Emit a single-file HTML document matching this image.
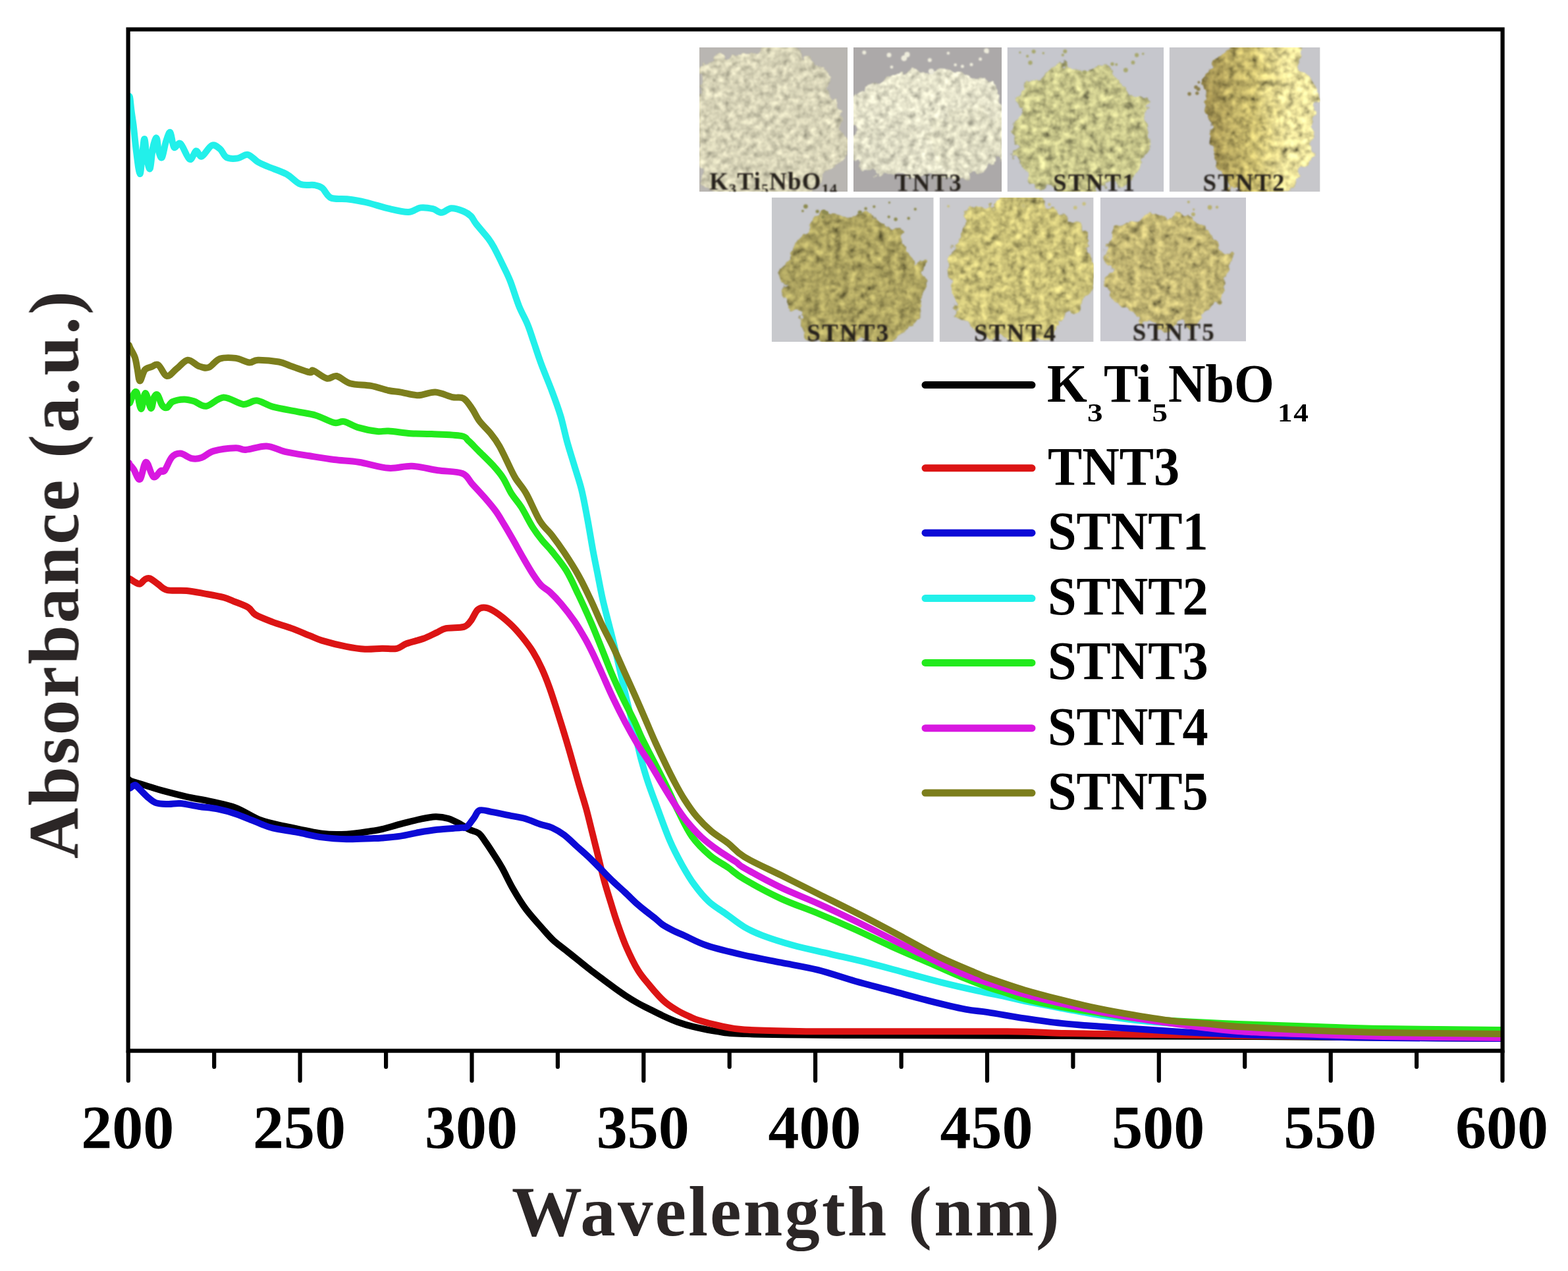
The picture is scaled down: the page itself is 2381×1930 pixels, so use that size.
<!DOCTYPE html>
<html><head><meta charset="utf-8"><style>
html,body{margin:0;padding:0;background:#fff;}
body{width:2381px;height:1930px;overflow:hidden;}
svg{display:block;}
</style></head><body>
<svg xmlns="http://www.w3.org/2000/svg" width="2381" height="1930" viewBox="0 0 2381 1930">
<defs><clipPath id="pc"><rect x="194" y="44" width="2088" height="1552"/></clipPath></defs>
<rect width="2381" height="1930" fill="#fff"/>
<defs>
<filter id="rough" x="-10%" y="-10%" width="120%" height="120%">
  <feTurbulence type="fractalNoise" baseFrequency="0.045" numOctaves="3" seed="4" result="t"/>
  <feDisplacementMap in="SourceGraphic" in2="t" scale="26" xChannelSelector="R" yChannelSelector="G" result="d"/>
  <feTurbulence type="fractalNoise" baseFrequency="0.1" numOctaves="3" seed="9" result="n"/>
  <feColorMatrix in="n" type="matrix" values="0.33 0.33 0.33 0 0  0.33 0.33 0.33 0 0  0.33 0.33 0.33 0 0  0 0 0 0 1" result="g"/>
  <feComposite in="d" in2="g" operator="arithmetic" k1="2.1" k2="-0.05" k3="0" k4="0" result="c"/>
  <feComposite in="c" in2="d" operator="in" result="o"/>
  <feGaussianBlur in="o" stdDeviation="1.1"/>
</filter>
<filter id="roughB" x="-10%" y="-10%" width="120%" height="120%">
  <feTurbulence type="fractalNoise" baseFrequency="0.045" numOctaves="3" seed="6" result="t"/>
  <feDisplacementMap in="SourceGraphic" in2="t" scale="26" xChannelSelector="R" yChannelSelector="G" result="d"/>
  <feTurbulence type="fractalNoise" baseFrequency="0.09" numOctaves="3" seed="13" result="n"/>
  <feColorMatrix in="n" type="matrix" values="0.33 0.33 0.33 0 0  0.33 0.33 0.33 0 0  0.33 0.33 0.33 0 0  0 0 0 0 1" result="g"/>
  <feComposite in="d" in2="g" operator="arithmetic" k1="3.1" k2="-0.55" k3="0" k4="0" result="c"/>
  <feComposite in="c" in2="d" operator="in" result="o"/>
  <feGaussianBlur in="o" stdDeviation="1.2"/>
</filter>
<filter id="soft"><feGaussianBlur stdDeviation="0.9"/></filter>
<clipPath id="ph1"><rect x="1062" y="72" width="225" height="219"/></clipPath>
<clipPath id="ph2"><rect x="1296" y="72" width="225" height="219"/></clipPath>
<clipPath id="ph3"><rect x="1529.5" y="72" width="237.5" height="219"/></clipPath>
<clipPath id="ph4"><rect x="1775.6" y="72" width="229" height="219"/></clipPath>
<clipPath id="ph5"><rect x="1171.7" y="300" width="246" height="219"/></clipPath>
<clipPath id="ph6"><rect x="1426.6" y="300" width="234" height="219"/></clipPath>
<clipPath id="ph7"><rect x="1670.7" y="300" width="221.3" height="218.5"/></clipPath>
<linearGradient id="g4" x1="0.05" y1="0" x2="0.95" y2="0">
  <stop offset="0" stop-color="#a09050"/><stop offset="0.45" stop-color="#cec070"/><stop offset="0.75" stop-color="#ece29a"/><stop offset="1" stop-color="#f0e6a0"/>
</linearGradient>
</defs>
<g clip-path="url(#ph1)">
<rect x="1062.0" y="72.0" width="225.0" height="219.0" fill="#b9b6b2"/>
<g filter="url(#rough)"><path d="M1274.4,190.0 C1276.8,199.3 1287.6,210.2 1288.0,219.7 C1288.5,229.3 1282.8,239.7 1276.9,247.1 C1271.0,254.5 1259.1,257.4 1252.7,264.1 C1246.3,270.9 1244.7,281.4 1238.5,287.6 C1232.3,293.9 1223.4,296.8 1215.7,301.5 C1207.9,306.1 1200.5,312.1 1192.1,315.6 C1183.6,319.0 1173.5,324.5 1165.0,322.2 C1156.5,320.0 1148.6,307.0 1140.9,302.0 C1133.1,296.9 1127.7,293.3 1118.6,292.0 C1109.6,290.7 1093.9,298.5 1086.5,294.3 C1079.0,290.1 1079.5,274.8 1074.0,266.9 C1068.4,259.0 1055.2,255.7 1053.1,247.1 C1051.0,238.4 1062.2,224.6 1061.4,215.0 C1060.6,205.5 1051.0,199.0 1048.3,190.0 C1045.5,181.0 1042.2,169.5 1044.9,161.0 C1047.6,152.4 1061.2,148.0 1064.5,138.7 C1067.7,129.4 1061.0,114.2 1064.5,105.1 C1068.0,96.1 1076.5,87.3 1085.5,84.4 C1094.5,81.6 1109.3,88.7 1118.6,88.0 C1127.9,87.2 1133.5,83.7 1141.2,79.7 C1149.0,75.7 1156.3,67.7 1165.0,64.0 C1173.7,60.3 1185.2,54.7 1193.6,57.4 C1201.9,60.1 1208.2,73.3 1215.0,80.1 C1221.8,86.8 1227.6,92.3 1234.4,97.8 C1241.2,103.3 1251.3,106.1 1255.8,113.3 C1260.3,120.5 1258.3,132.5 1261.3,140.9 C1264.3,149.3 1271.5,155.5 1273.6,163.7 C1275.8,171.9 1272.0,180.7 1274.4,190.0Z" fill="#d8d4b8"/><path d="M1174.4,235.0 C1174.6,240.2 1174.3,245.3 1174.2,250.8 C1174.1,256.3 1175.7,263.4 1173.6,267.9 C1171.5,272.5 1165.1,274.7 1161.6,278.3 C1158.1,282.0 1155.8,286.3 1152.5,289.8 C1149.1,293.3 1145.6,297.6 1141.5,299.2 C1137.3,300.7 1131.9,297.9 1127.5,298.9 C1123.1,299.9 1119.4,304.2 1115.0,305.2 C1110.6,306.2 1105.9,305.6 1101.3,305.0 C1096.7,304.5 1090.9,305.1 1087.4,301.8 C1084.0,298.5 1083.5,289.4 1080.6,285.3 C1077.7,281.1 1072.5,280.7 1069.9,276.9 C1067.4,273.2 1068.2,267.1 1065.4,262.9 C1062.5,258.7 1055.0,256.2 1052.9,251.5 C1050.8,246.9 1051.2,240.1 1052.7,235.0 C1054.2,229.9 1061.4,226.4 1061.9,220.9 C1062.4,215.3 1055.4,207.3 1055.7,201.7 C1056.0,196.1 1060.3,191.2 1063.7,187.3 C1067.2,183.4 1072.3,181.4 1076.4,178.6 C1080.5,175.8 1084.0,171.7 1088.4,170.5 C1092.7,169.3 1098.1,171.2 1102.6,171.4 C1107.0,171.6 1110.7,172.6 1115.0,171.8 C1119.3,170.9 1124.5,165.4 1128.4,166.4 C1132.4,167.3 1135.1,174.6 1138.7,177.5 C1142.4,180.4 1146.6,181.0 1150.1,183.7 C1153.5,186.3 1157.2,189.6 1159.5,193.6 C1161.8,197.6 1161.7,203.2 1164.0,207.5 C1166.2,211.8 1171.3,214.9 1173.1,219.5 C1174.8,224.1 1174.2,229.8 1174.4,235.0Z" fill="#d8d4b8"/></g>
</g>
<g clip-path="url(#ph2)">
<rect x="1296.0" y="72.0" width="225.0" height="219.0" fill="#aca9a9"/>
<g filter="url(#rough)"><path d="M1540.8,185.0 C1542.2,191.6 1542.7,200.0 1537.3,205.6 C1532.0,211.2 1515.7,213.9 1508.9,218.6 C1502.1,223.3 1499.7,227.4 1496.6,233.6 C1493.5,239.8 1495.7,250.6 1490.5,255.9 C1485.3,261.2 1474.2,262.7 1465.6,265.2 C1457.1,267.7 1448.1,270.4 1439.1,270.7 C1430.2,270.9 1421.0,266.9 1412.0,266.7 C1403.0,266.6 1393.9,270.2 1385.2,269.6 C1376.5,269.0 1367.7,266.1 1359.7,263.2 C1351.7,260.4 1342.8,257.3 1337.2,252.5 C1331.6,247.7 1331.1,239.6 1326.0,234.4 C1321.0,229.2 1311.6,226.5 1307.2,221.4 C1302.7,216.2 1302.5,209.6 1299.4,203.5 C1296.3,197.5 1291.0,191.5 1288.7,185.0 C1286.4,178.5 1284.3,170.9 1285.6,164.2 C1286.8,157.5 1290.6,150.3 1296.1,144.8 C1301.7,139.4 1311.7,135.8 1318.9,131.5 C1326.1,127.3 1331.9,122.5 1339.2,119.3 C1346.6,116.0 1355.0,113.5 1363.2,112.0 C1371.3,110.4 1380.0,110.5 1388.2,109.8 C1396.3,109.2 1403.7,109.2 1412.0,108.0 C1420.3,106.8 1429.8,102.2 1438.1,102.7 C1446.3,103.2 1453.7,108.3 1461.3,111.2 C1469.0,114.1 1475.4,117.4 1483.8,120.1 C1492.2,122.9 1505.6,123.2 1511.5,127.9 C1517.3,132.5 1516.0,141.6 1518.9,147.9 C1521.7,154.3 1524.8,159.7 1528.4,165.9 C1532.1,172.0 1539.3,178.4 1540.8,185.0Z" fill="#e6e4cc"/><path d="M1529.7,215.0 C1530.8,218.6 1531.0,222.7 1530.3,226.5 C1529.7,230.2 1528.7,234.5 1525.9,237.4 C1523.1,240.3 1517.2,241.8 1513.6,243.9 C1509.9,246.1 1506.8,247.8 1503.7,250.3 C1500.7,252.8 1498.9,257.0 1495.4,258.9 C1491.9,260.8 1487.0,260.0 1482.7,261.5 C1478.5,263.1 1474.4,267.4 1470.0,268.1 C1465.6,268.8 1460.6,266.8 1456.1,265.6 C1451.7,264.4 1447.4,262.8 1443.4,261.0 C1439.4,259.1 1435.8,256.8 1432.2,254.5 C1428.5,252.2 1423.6,250.4 1421.6,247.2 C1419.5,243.9 1421.3,238.7 1419.8,235.2 C1418.2,231.6 1413.2,229.4 1412.2,226.0 C1411.3,222.6 1415.0,218.8 1414.1,215.0 C1413.1,211.2 1405.6,206.3 1406.8,203.0 C1407.9,199.7 1418.5,198.7 1420.7,195.2 C1422.9,191.7 1417.6,184.5 1420.1,181.8 C1422.6,179.2 1432.0,181.5 1435.8,179.2 C1439.6,177.0 1439.4,170.2 1443.0,168.3 C1446.5,166.4 1452.6,168.2 1457.1,167.8 C1461.6,167.5 1465.5,166.8 1470.0,166.0 C1474.5,165.1 1480.3,161.5 1484.3,162.9 C1488.2,164.3 1490.2,171.6 1493.5,174.3 C1496.8,177.0 1499.6,178.2 1504.1,179.3 C1508.7,180.5 1517.5,178.9 1520.8,181.2 C1524.1,183.6 1523.7,189.3 1524.2,193.3 C1524.6,197.2 1522.8,201.2 1523.7,204.8 C1524.6,208.4 1528.6,211.4 1529.7,215.0Z" fill="#dedcc2"/><path d="M1399.6,222.0 C1398.9,225.0 1392.5,227.9 1390.2,230.7 C1387.9,233.4 1386.1,235.1 1385.8,238.5 C1385.4,241.8 1389.9,248.4 1388.0,250.8 C1386.1,253.2 1378.0,251.7 1374.2,252.8 C1370.4,253.8 1368.0,255.1 1365.0,257.0 C1362.1,258.9 1359.8,263.2 1356.5,264.2 C1353.1,265.1 1348.9,262.4 1345.0,262.7 C1341.1,263.0 1336.4,267.0 1333.0,266.1 C1329.6,265.3 1328.1,259.2 1324.5,257.8 C1320.8,256.4 1313.8,259.6 1311.0,257.9 C1308.1,256.1 1309.3,250.1 1307.3,247.2 C1305.3,244.4 1301.6,243.1 1299.0,240.6 C1296.5,238.1 1293.0,235.3 1292.0,232.2 C1291.1,229.1 1293.1,225.4 1293.1,222.0 C1293.2,218.6 1291.3,215.0 1292.1,211.9 C1292.9,208.7 1295.2,205.3 1298.1,203.0 C1301.0,200.7 1307.2,200.9 1309.4,198.2 C1311.7,195.5 1309.2,189.1 1311.4,186.7 C1313.7,184.2 1319.1,184.2 1322.9,183.5 C1326.7,182.8 1330.6,182.7 1334.3,182.6 C1338.0,182.5 1341.2,183.3 1345.0,182.6 C1348.8,181.9 1353.2,178.0 1356.9,178.2 C1360.6,178.3 1363.4,182.2 1367.1,183.5 C1370.7,184.9 1375.7,184.5 1378.9,186.3 C1382.1,188.1 1383.7,191.7 1386.2,194.4 C1388.8,197.0 1392.8,199.1 1394.2,202.1 C1395.6,205.1 1393.5,209.2 1394.4,212.5 C1395.3,215.8 1400.3,219.0 1399.6,222.0Z" fill="#dedcc4"/></g>
</g>
<g clip-path="url(#ph3)">
<rect x="1529.5" y="72.0" width="237.5" height="219.0" fill="#c6c7cd"/>
<g filter="url(#roughB)"><path d="M1740.5,200.0 C1740.8,207.4 1745.5,215.4 1744.3,222.4 C1743.1,229.5 1736.5,235.4 1733.3,242.3 C1730.0,249.1 1729.1,257.3 1725.0,263.6 C1720.9,270.0 1715.4,277.0 1708.5,280.1 C1701.5,283.3 1690.8,281.0 1683.2,282.3 C1675.6,283.6 1669.8,283.9 1662.9,288.0 C1656.0,292.1 1649.2,305.9 1642.0,306.7 C1634.8,307.5 1627.1,296.4 1620.0,292.8 C1612.9,289.2 1607.5,286.5 1599.3,285.3 C1591.1,284.2 1577.1,289.8 1570.7,285.9 C1564.4,282.0 1566.0,268.6 1561.2,262.0 C1556.4,255.4 1545.3,252.9 1542.0,246.3 C1538.6,239.7 1542.2,229.9 1541.1,222.1 C1539.9,214.4 1534.0,207.1 1535.1,200.0 C1536.2,192.9 1545.9,186.7 1547.7,179.3 C1549.5,171.9 1544.6,163.1 1545.8,155.4 C1546.9,147.7 1549.5,138.7 1554.7,133.1 C1559.9,127.4 1570.2,126.0 1576.9,121.5 C1583.5,116.9 1587.8,109.3 1594.7,105.6 C1601.6,101.8 1610.2,98.6 1618.1,99.2 C1625.9,99.7 1634.0,109.0 1642.0,108.7 C1650.0,108.4 1658.7,97.5 1666.3,97.5 C1674.0,97.4 1681.6,103.7 1687.9,108.3 C1694.3,112.8 1699.6,119.1 1704.3,124.9 C1708.9,130.8 1709.3,138.7 1715.7,143.5 C1722.1,148.3 1738.0,147.7 1742.6,153.4 C1747.1,159.2 1743.2,170.1 1742.8,177.9 C1742.5,185.6 1740.3,192.6 1740.5,200.0Z" fill="#c8c68a"/></g>
</g>
<g clip-path="url(#ph4)">
<rect x="1775.6" y="72.0" width="229.0" height="219.0" fill="#c7c7cb"/>
<g filter="url(#roughB)"><path d="M1994.6,180.0 C1993.0,189.8 1991.3,198.1 1990.4,207.7 C1989.5,217.2 1991.5,228.9 1989.1,237.4 C1986.7,245.8 1980.5,251.9 1976.1,258.4 C1971.8,264.9 1967.1,269.6 1962.8,276.4 C1958.6,283.2 1955.3,291.5 1950.7,299.2 C1946.1,306.9 1941.2,318.6 1935.3,322.6 C1929.3,326.6 1921.7,323.8 1915.0,323.1 C1908.3,322.4 1901.1,323.3 1895.3,318.6 C1889.6,313.9 1886.1,300.2 1880.6,294.9 C1875.1,289.5 1867.0,292.1 1862.2,286.3 C1857.5,280.6 1855.3,269.0 1852.3,260.4 C1849.3,251.8 1846.4,243.5 1844.3,234.7 C1842.2,226.0 1841.0,216.8 1839.6,207.7 C1838.1,198.6 1838.0,190.0 1835.8,180.0 C1833.6,170.0 1826.3,157.8 1826.1,147.4 C1825.9,137.0 1831.1,127.0 1834.3,117.6 C1837.5,108.1 1841.1,98.9 1845.3,90.7 C1849.5,82.4 1853.6,72.3 1859.5,68.1 C1865.4,64.0 1874.5,68.3 1880.8,65.8 C1887.0,63.4 1891.3,57.4 1897.0,53.4 C1902.7,49.3 1908.7,43.4 1915.0,41.6 C1921.3,39.7 1928.1,40.9 1934.6,42.3 C1941.1,43.6 1947.9,45.7 1954.0,49.7 C1960.2,53.8 1967.8,57.6 1971.4,66.4 C1974.9,75.3 1971.8,93.8 1975.2,102.8 C1978.7,111.7 1988.2,112.5 1992.3,120.2 C1996.4,127.9 1999.3,139.0 1999.7,148.9 C2000.1,158.9 1996.1,170.2 1994.6,180.0Z" fill="url(#g4)"/></g>
</g>
<g clip-path="url(#ph5)">
<rect x="1171.7" y="300.0" width="246.0" height="219.0" fill="#c8c9cd"/>
<g filter="url(#roughB)"><path d="M1403.7,425.0 C1403.2,433.0 1404.7,441.0 1403.4,448.8 C1402.1,456.6 1399.1,464.3 1396.0,471.9 C1393.0,479.4 1390.3,488.1 1384.9,494.2 C1379.5,500.3 1370.4,503.5 1363.6,508.6 C1356.7,513.6 1352.0,523.6 1343.8,524.7 C1335.7,525.7 1323.2,514.8 1314.8,515.1 C1306.3,515.3 1301.0,523.3 1293.0,526.3 C1285.0,529.3 1274.9,534.4 1266.8,533.3 C1258.8,532.2 1252.5,523.3 1244.7,519.6 C1237.0,516.0 1225.2,517.1 1220.3,511.1 C1215.3,505.1 1219.1,490.7 1215.1,483.7 C1211.1,476.6 1200.0,475.2 1196.3,469.0 C1192.6,462.8 1195.1,453.9 1193.0,446.5 C1191.0,439.2 1185.2,432.4 1184.1,425.0 C1182.9,417.6 1182.6,408.6 1186.2,402.0 C1189.7,395.3 1200.6,391.2 1205.2,385.1 C1209.7,378.9 1209.4,371.1 1213.3,365.0 C1217.3,359.0 1223.8,355.4 1228.6,348.8 C1233.4,342.2 1235.7,330.2 1242.2,325.4 C1248.7,320.7 1259.2,319.5 1267.7,320.3 C1276.2,321.0 1284.5,330.0 1293.0,329.9 C1301.5,329.8 1311.2,318.0 1318.5,319.6 C1325.7,321.3 1329.2,335.8 1336.5,339.7 C1343.7,343.7 1356.1,339.0 1361.9,343.4 C1367.7,347.8 1368.0,359.2 1371.1,366.2 C1374.2,373.1 1374.8,379.4 1380.6,385.2 C1386.4,390.9 1402.3,394.0 1406.1,400.6 C1410.0,407.3 1404.1,417.0 1403.7,425.0Z" fill="#aea460"/></g>
</g>
<g clip-path="url(#ph6)">
<rect x="1426.6" y="300.0" width="234.0" height="219.0" fill="#c9c9cd"/>
<g filter="url(#roughB)"><path d="M1662.3,410.0 C1663.7,418.4 1663.0,428.1 1660.1,436.1 C1657.2,444.0 1650.3,451.0 1645.0,457.6 C1639.7,464.1 1634.5,470.3 1628.4,475.3 C1622.3,480.3 1613.9,481.2 1608.6,487.4 C1603.3,493.6 1602.5,507.5 1596.4,512.3 C1590.3,517.2 1580.0,514.4 1571.9,516.6 C1563.8,518.8 1555.9,526.1 1548.0,525.7 C1540.1,525.4 1532.8,516.4 1524.6,514.5 C1516.3,512.6 1505.4,518.2 1498.6,514.5 C1491.8,510.7 1490.4,497.4 1483.7,492.1 C1477.0,486.8 1464.7,488.1 1458.5,482.7 C1452.2,477.4 1448.5,468.0 1446.2,459.9 C1443.9,451.8 1445.7,442.4 1444.5,434.1 C1443.3,425.7 1440.1,418.2 1439.2,410.0 C1438.2,401.8 1436.0,392.1 1438.9,384.6 C1441.8,377.2 1452.7,372.5 1456.7,365.2 C1460.6,357.9 1459.3,348.4 1462.7,340.7 C1466.0,332.9 1469.8,322.9 1476.6,318.8 C1483.3,314.6 1495.7,319.3 1503.3,315.5 C1511.0,311.8 1515.1,299.5 1522.5,296.3 C1530.0,293.0 1539.5,296.1 1548.0,295.9 C1556.5,295.8 1566.1,292.3 1573.7,295.4 C1581.2,298.4 1587.3,308.2 1593.3,314.2 C1599.3,320.1 1602.5,327.1 1609.9,331.0 C1617.2,334.9 1630.6,332.6 1637.5,337.3 C1644.4,342.0 1648.8,351.3 1651.2,359.4 C1653.7,367.4 1650.3,377.4 1652.1,385.8 C1654.0,394.2 1661.0,401.6 1662.3,410.0Z" fill="#ccc278"/></g>
</g>
<g clip-path="url(#ph7)">
<rect x="1670.7" y="300.0" width="221.3" height="218.5" fill="#c9c9d0"/>
<g filter="url(#roughB)"><path d="M1863.7,412.0 C1861.6,418.5 1858.7,423.7 1858.2,430.2 C1857.6,436.8 1863.2,446.0 1860.2,451.3 C1857.1,456.7 1844.7,457.2 1839.9,462.2 C1835.2,467.2 1836.3,476.8 1831.7,481.3 C1827.0,485.8 1818.8,487.7 1812.1,489.2 C1805.4,490.6 1798.0,488.4 1791.3,490.2 C1784.6,492.0 1778.4,500.2 1772.0,500.1 C1765.6,500.1 1759.6,491.5 1752.8,489.9 C1746.0,488.2 1737.2,492.7 1731.3,490.2 C1725.5,487.7 1722.5,479.5 1717.9,474.9 C1713.3,470.2 1708.8,466.6 1703.8,462.4 C1698.8,458.2 1692.8,454.5 1687.7,449.6 C1682.6,444.7 1673.9,439.1 1673.3,432.9 C1672.7,426.6 1682.3,418.6 1684.1,412.0 C1686.0,405.4 1684.5,400.0 1684.5,393.5 C1684.5,387.0 1683.1,379.7 1684.2,372.8 C1685.3,366.0 1686.5,357.3 1691.1,352.2 C1695.7,347.1 1705.1,345.1 1711.9,342.1 C1718.6,339.2 1725.5,338.4 1731.6,334.4 C1737.8,330.3 1742.1,318.4 1748.8,318.0 C1755.6,317.6 1764.4,331.6 1772.0,332.0 C1779.6,332.3 1788.1,319.4 1794.7,320.1 C1801.2,320.7 1806.1,331.4 1811.5,336.1 C1816.9,340.7 1822.2,343.9 1827.0,348.1 C1831.9,352.3 1836.0,356.8 1840.6,361.3 C1845.1,365.9 1849.3,370.3 1854.3,375.3 C1859.3,380.3 1868.9,385.1 1870.5,391.2 C1872.0,397.3 1865.7,405.5 1863.7,412.0Z" fill="#c2b672"/></g>
</g>
<g filter="url(#soft)"><circle cx="1312.3" cy="79.8" r="3.0" fill="#eeecdc"/><circle cx="1439.9" cy="80.7" r="2.3" fill="#eeecdc"/><circle cx="1354.0" cy="101.8" r="2.4" fill="#eeecdc"/><circle cx="1450.7" cy="98.5" r="2.3" fill="#eeecdc"/><circle cx="1411.8" cy="91.2" r="3.0" fill="#eeecdc"/><circle cx="1499.3" cy="79.2" r="2.1" fill="#eeecdc"/><circle cx="1488.6" cy="89.7" r="2.5" fill="#eeecdc"/><circle cx="1372.8" cy="88.4" r="4.4" fill="#eeecdc"/><circle cx="1350.0" cy="83.4" r="3.5" fill="#eeecdc"/><circle cx="1414.0" cy="108.4" r="4.1" fill="#eeecdc"/><circle cx="1377.5" cy="82.9" r="4.1" fill="#eeecdc"/><circle cx="1497.9" cy="77.0" r="3.8" fill="#eeecdc"/><circle cx="1475.0" cy="98.1" r="2.5" fill="#eeecdc"/><circle cx="1461.4" cy="100.8" r="2.5" fill="#eeecdc"/><circle cx="1560.1" cy="85.3" r="2.1" fill="#a8a870"/><circle cx="1720.5" cy="94.9" r="2.9" fill="#a8a870"/><circle cx="1564.5" cy="95.3" r="3.2" fill="#a8a870"/><circle cx="1646.9" cy="110.1" r="3.3" fill="#a8a870"/><circle cx="1617.3" cy="78.0" r="3.0" fill="#a8a870"/><circle cx="1569.6" cy="78.3" r="3.0" fill="#a8a870"/><circle cx="1709.4" cy="106.4" r="3.4" fill="#a8a870"/><circle cx="1584.3" cy="80.8" r="1.7" fill="#a8a870"/><circle cx="1735.7" cy="81.8" r="1.8" fill="#a8a870"/><circle cx="1548.9" cy="79.7" r="1.6" fill="#a8a870"/><circle cx="1613.8" cy="83.6" r="2.1" fill="#a8a870"/><circle cx="1726.1" cy="83.7" r="3.1" fill="#a8a870"/><circle cx="1689.0" cy="97.3" r="2.7" fill="#a8a870"/><circle cx="1695.2" cy="98.0" r="2.0" fill="#a8a870"/><circle cx="1817.8" cy="141.6" r="2.7" fill="#8c8050"/><circle cx="1806.1" cy="142.6" r="2.8" fill="#8c8050"/><circle cx="1831.4" cy="119.3" r="2.5" fill="#8c8050"/><circle cx="1819.7" cy="135.2" r="2.9" fill="#8c8050"/><circle cx="1816.1" cy="132.3" r="2.9" fill="#8c8050"/><circle cx="1820.4" cy="125.1" r="2.0" fill="#8c8050"/><circle cx="1305.8" cy="322.6" r="3.2" fill="#8c8a50"/><circle cx="1379.7" cy="331.5" r="2.2" fill="#8c8a50"/><circle cx="1389.8" cy="317.7" r="2.1" fill="#8c8a50"/><circle cx="1218.9" cy="320.4" r="1.8" fill="#8c8a50"/><circle cx="1254.8" cy="323.3" r="3.1" fill="#8c8a50"/><circle cx="1350.5" cy="307.6" r="1.6" fill="#8c8a50"/><circle cx="1251.0" cy="321.6" r="3.2" fill="#8c8a50"/><circle cx="1360.1" cy="333.0" r="2.7" fill="#8c8a50"/><circle cx="1327.3" cy="313.8" r="2.1" fill="#8c8a50"/><circle cx="1241.2" cy="321.1" r="2.7" fill="#8c8a50"/><circle cx="1314.6" cy="316.8" r="2.3" fill="#8c8a50"/><circle cx="1249.7" cy="329.5" r="2.7" fill="#8c8a50"/><circle cx="1349.7" cy="329.3" r="2.1" fill="#8c8a50"/><circle cx="1223.4" cy="313.5" r="3.3" fill="#8c8a50"/><circle cx="1783.3" cy="331.3" r="3.0" fill="#b8b070"/><circle cx="1837.1" cy="315.0" r="3.4" fill="#b8b070"/><circle cx="1786.3" cy="331.2" r="3.0" fill="#b8b070"/><circle cx="1848.0" cy="314.6" r="2.2" fill="#b8b070"/><circle cx="1811.9" cy="325.5" r="3.0" fill="#b8b070"/><circle cx="1751.9" cy="338.4" r="1.5" fill="#b8b070"/><circle cx="1812.7" cy="318.1" r="1.6" fill="#b8b070"/><circle cx="1804.8" cy="306.8" r="2.0" fill="#b8b070"/><circle cx="1509.0" cy="317.8" r="2.9" fill="#c8c080"/><circle cx="1632.8" cy="315.3" r="2.8" fill="#c8c080"/><circle cx="1440.1" cy="313.2" r="1.9" fill="#c8c080"/><circle cx="1593.4" cy="310.6" r="2.3" fill="#c8c080"/><circle cx="1554.0" cy="312.5" r="2.7" fill="#c8c080"/><circle cx="1646.1" cy="309.5" r="2.7" fill="#c8c080"/></g>
<g font-family="Liberation Serif, serif" font-weight="bold" font-size="37" letter-spacing="2.2" fill="#28231f" filter="url(#soft)"><g clip-path="url(#ph1)"><text x="1077" y="288" letter-spacing="1.2">K<tspan font-size="22" dy="6">3</tspan><tspan dy="-6">Ti</tspan><tspan font-size="22" dy="6">5</tspan><tspan dy="-6">NbO</tspan><tspan font-size="22" dy="6">14</tspan></text></g><text x="1358.5" y="289.5">TNT3</text><text x="1599" y="289.5">STNT1</text><text x="1826.5" y="289.5">STNT2</text><text x="1225.3" y="517.5">STNT3</text><text x="1479" y="517.5">STNT4</text><text x="1719.7" y="517">STNT5</text></g>
<g fill="none" stroke-width="10" stroke-linejoin="round" stroke-linecap="round" clip-path="url(#pc)"><path d="M196.0,1184.0 C196.2,1184.2 192.3,1183.7 197.5,1185.5 C202.7,1187.3 219.2,1192.3 227.3,1194.8 C235.4,1197.3 236.7,1197.9 246.0,1200.4 C255.3,1202.9 270.9,1207.0 283.4,1209.8 C295.8,1212.6 308.3,1214.4 320.7,1217.2 C333.1,1220.0 345.6,1221.9 358.0,1226.6 C370.4,1231.3 382.9,1240.5 395.4,1245.2 C407.9,1249.9 417.2,1251.2 432.8,1254.6 C448.4,1258.0 473.2,1263.8 488.8,1265.8 C504.4,1267.8 513.6,1267.3 526.1,1266.7 C538.6,1266.1 554.5,1263.3 563.5,1262.0 C572.5,1260.7 572.6,1260.9 580.0,1259.1 C587.4,1257.3 598.7,1253.9 608.0,1251.4 C617.3,1249.0 627.1,1246.3 636.0,1244.4 C644.9,1242.5 653.7,1240.4 661.2,1240.2 C668.7,1240.0 674.5,1241.1 680.8,1243.0 C687.1,1244.9 693.6,1248.6 699.0,1251.4 C704.4,1254.2 708.3,1257.5 713.0,1259.8 C717.7,1262.1 723.1,1262.4 727.1,1265.4 C731.1,1268.4 733.4,1273.1 736.9,1278.0 C740.4,1282.9 743.9,1288.2 748.1,1294.8 C752.3,1301.3 756.9,1308.1 762.1,1317.3 C767.3,1326.5 773.1,1339.4 779.2,1350.0 C785.3,1360.6 791.3,1370.8 798.8,1380.8 C806.3,1390.8 817.1,1402.5 824.0,1410.3 C830.9,1418.1 834.3,1422.2 840.0,1427.6 C845.7,1432.9 852.2,1437.5 858.4,1442.4 C864.5,1447.3 870.8,1452.2 876.9,1457.1 C883.0,1462.0 889.2,1467.1 895.3,1471.9 C901.4,1476.7 907.6,1481.1 913.7,1485.7 C919.9,1490.3 926.1,1495.0 932.2,1499.5 C938.4,1504.0 944.5,1508.4 950.6,1512.4 C956.7,1516.4 963.6,1520.5 969.0,1523.5 C974.4,1526.5 976.8,1527.6 983.0,1530.7 C989.2,1533.8 998.4,1538.7 1006.1,1542.2 C1013.8,1545.8 1021.4,1549.2 1029.1,1552.0 C1036.8,1554.8 1042.4,1556.6 1052.2,1558.9 C1062.0,1561.2 1075.0,1564.2 1088.0,1566.0 C1101.0,1567.8 1094.7,1569.0 1130.0,1570.0 C1165.3,1571.0 1171.7,1571.3 1300.0,1572.0 C1428.3,1572.7 1736.8,1573.2 1900.0,1574.0 C2063.2,1574.8 2215.8,1576.5 2279.0,1577.0" stroke="#000000"/>
<path d="M196.0,879.0 C196.2,879.0 196.0,878.4 197.5,879.2 C199.0,880.0 202.5,882.8 205.0,884.0 C207.5,885.2 209.9,887.4 212.4,886.7 C214.9,886.0 217.5,881.4 220.0,880.0 C222.5,878.6 224.0,877.1 227.3,878.3 C230.6,879.5 235.6,884.0 240.0,887.0 C244.4,890.0 246.3,894.3 253.5,896.0 C260.7,897.7 273.8,896.1 283.4,897.0 C293.0,897.9 302.1,899.9 311.4,901.6 C320.7,903.3 332.2,905.3 339.4,907.2 C346.5,909.1 348.1,910.3 354.3,912.8 C360.5,915.3 371.1,918.8 376.7,922.2 C382.3,925.6 381.7,929.7 387.9,933.4 C394.1,937.1 405.1,941.2 414.1,944.6 C423.1,948.0 432.8,950.5 442.1,953.9 C451.4,957.3 462.3,962.0 470.1,965.1 C477.9,968.2 479.5,969.8 488.8,972.6 C498.1,975.4 515.2,979.7 526.1,981.9 C537.0,984.1 545.1,985.2 554.1,985.7 C563.1,986.2 571.9,984.9 580.0,984.8 C588.1,984.6 596.3,986.0 602.5,984.8 C608.7,983.5 610.7,979.8 617.4,977.3 C624.1,974.8 635.4,972.5 642.9,969.8 C650.4,967.1 656.7,963.5 662.4,960.9 C668.1,958.3 670.3,955.6 677.3,954.1 C684.3,952.6 698.0,953.8 704.3,951.9 C710.5,950.0 711.3,947.2 714.8,942.9 C718.3,938.6 721.6,929.4 725.3,926.0 C729.0,922.6 732.7,922.1 737.2,922.7 C741.7,923.3 746.0,925.3 752.2,929.4 C758.5,933.5 768.0,941.1 774.7,947.4 C781.4,953.6 786.9,959.9 792.6,966.9 C798.3,973.9 804.1,981.3 809.1,989.3 C814.1,997.3 818.4,1005.6 822.6,1014.8 C826.9,1024.0 830.7,1033.8 834.6,1044.7 C838.5,1055.6 842.7,1069.1 846.2,1080.0 C849.7,1090.9 852.5,1100.0 855.6,1110.0 C858.7,1120.0 860.7,1126.6 864.6,1140.0 C868.5,1153.4 874.8,1176.0 879.0,1190.6 C883.2,1205.2 886.6,1215.2 890.0,1227.5 C893.4,1239.8 896.2,1252.0 899.3,1264.3 C902.4,1276.6 905.4,1288.9 908.5,1301.2 C911.6,1313.5 914.3,1325.8 917.7,1338.1 C921.1,1350.4 925.6,1364.6 928.8,1374.9 C932.0,1385.2 933.2,1389.7 936.8,1400.0 C940.4,1410.3 945.2,1424.6 950.6,1436.9 C956.0,1449.2 962.9,1463.7 969.0,1473.7 C975.1,1483.7 981.8,1490.6 987.0,1497.0 C992.2,1503.4 995.9,1507.6 1000.0,1512.0 C1004.1,1516.4 1006.9,1519.4 1011.8,1523.2 C1016.6,1527.0 1023.3,1531.3 1029.1,1534.7 C1034.9,1538.1 1041.2,1541.0 1046.4,1543.4 C1051.6,1545.8 1052.7,1546.8 1060.0,1549.1 C1067.3,1551.4 1078.3,1554.6 1090.0,1557.0 C1101.7,1559.4 1109.3,1562.0 1130.0,1563.5 C1150.7,1565.0 1182.9,1565.5 1214.0,1566.0 C1245.1,1566.5 1264.0,1566.2 1316.7,1566.3 C1369.4,1566.3 1480.8,1565.9 1530.0,1566.3 C1579.2,1566.7 1579.7,1568.2 1612.0,1568.9 C1644.3,1569.6 1676.0,1570.0 1724.0,1570.7 C1772.0,1571.4 1807.5,1572.1 1900.0,1573.0 C1992.5,1573.9 2215.8,1575.5 2279.0,1576.0" stroke="#dc1414"/>
<path d="M196.0,1196.0 C196.2,1196.1 196.0,1197.4 197.5,1196.7 C199.0,1196.0 202.8,1192.0 205.0,1192.0 C207.2,1192.0 207.4,1193.7 210.5,1196.7 C213.6,1199.7 219.2,1206.1 223.6,1209.8 C228.0,1213.5 231.4,1217.2 236.7,1219.1 C242.0,1221.0 249.2,1220.8 255.4,1221.0 C261.6,1221.2 266.2,1219.4 274.0,1220.0 C281.8,1220.6 292.7,1223.3 302.0,1224.7 C311.3,1226.1 320.7,1226.5 330.0,1228.4 C339.3,1230.3 347.1,1232.2 358.0,1235.9 C368.9,1239.6 386.0,1247.2 395.4,1250.8 C404.8,1254.4 404.8,1255.2 414.1,1257.4 C423.4,1259.6 438.9,1261.6 451.4,1263.9 C463.8,1266.2 476.4,1269.7 488.8,1271.4 C501.2,1273.1 513.6,1273.9 526.1,1274.2 C538.6,1274.5 554.5,1273.5 563.5,1273.2 C572.5,1272.9 572.6,1273.0 580.0,1272.4 C587.4,1271.8 598.7,1271.0 608.0,1269.6 C617.3,1268.2 626.7,1265.6 636.0,1264.0 C645.3,1262.4 653.5,1261.0 664.0,1259.8 C674.5,1258.6 691.5,1257.7 699.0,1257.0 C706.5,1256.3 705.4,1258.2 708.9,1255.6 C712.4,1253.0 716.7,1245.8 720.0,1241.6 C723.3,1237.4 723.8,1231.8 728.5,1230.4 C733.2,1229.0 740.2,1231.8 748.1,1233.2 C756.0,1234.6 767.9,1237.2 776.1,1238.8 C784.3,1240.4 789.8,1240.9 797.1,1243.0 C804.4,1245.1 813.1,1249.1 820.0,1251.4 C826.9,1253.7 832.2,1254.2 838.4,1257.0 C844.5,1259.8 850.8,1263.4 856.9,1268.0 C863.0,1272.6 869.2,1279.1 875.3,1284.6 C881.4,1290.1 887.6,1295.4 893.7,1301.2 C899.9,1307.0 906.1,1313.4 912.2,1319.6 C918.4,1325.8 924.5,1332.2 930.6,1338.1 C936.7,1344.0 942.8,1349.2 949.0,1355.0 C955.2,1360.8 962.4,1368.1 967.6,1372.8 C972.8,1377.5 975.4,1379.3 980.0,1383.0 C984.6,1386.7 991.0,1391.4 995.3,1394.9 C999.6,1398.4 1001.4,1400.9 1006.0,1404.0 C1010.6,1407.1 1017.3,1410.6 1023.0,1413.4 C1028.7,1416.2 1031.5,1417.2 1040.0,1421.0 C1048.5,1424.8 1059.0,1431.1 1074.0,1436.0 C1089.0,1440.9 1111.3,1446.2 1130.0,1450.5 C1148.7,1454.8 1167.3,1458.0 1186.0,1461.7 C1204.7,1465.4 1223.3,1468.2 1242.0,1472.9 C1260.7,1477.6 1279.4,1484.4 1298.1,1489.7 C1316.8,1495.0 1335.4,1499.6 1354.1,1504.6 C1372.8,1509.6 1391.4,1514.9 1410.1,1519.6 C1428.8,1524.3 1451.1,1529.7 1466.1,1532.6 C1481.1,1535.5 1485.0,1534.8 1500.0,1537.1 C1515.0,1539.4 1537.3,1543.6 1556.0,1546.4 C1574.7,1549.2 1593.3,1551.9 1612.0,1553.9 C1630.7,1555.9 1649.3,1557.2 1668.0,1558.6 C1686.7,1560.0 1705.4,1561.0 1724.1,1562.3 C1742.8,1563.5 1761.4,1565.0 1780.1,1566.1 C1798.8,1567.2 1816.1,1568.0 1836.1,1568.9 C1856.1,1569.8 1872.7,1570.9 1900.0,1571.7 C1927.3,1572.5 1966.7,1573.3 2000.0,1574.0 C2033.3,1574.7 2053.5,1575.5 2100.0,1576.0 C2146.5,1576.5 2249.2,1576.8 2279.0,1577.0" stroke="#0c0ad6"/>
<path d="M196.5,146.0 C196.7,146.7 197.0,146.3 197.5,150.0 C198.0,153.7 198.7,161.3 199.5,168.0 C200.3,174.7 201.3,179.7 202.6,190.0 C203.8,200.3 205.4,217.7 207.0,230.0 C208.6,242.3 210.9,263.2 212.4,264.0 C213.9,264.8 214.8,243.8 216.0,235.0 C217.2,226.2 218.2,210.2 219.4,211.0 C220.6,211.8 221.6,232.5 223.0,240.0 C224.4,247.5 226.3,258.5 227.8,256.0 C229.3,253.5 230.4,232.7 232.0,225.0 C233.6,217.3 236.1,208.8 237.6,209.6 C239.1,210.4 239.6,225.1 241.0,230.0 C242.4,234.9 244.2,241.5 246.0,239.0 C247.8,236.5 249.9,221.3 252.0,215.0 C254.1,208.7 256.6,199.6 258.6,201.0 C260.6,202.4 261.6,220.8 264.2,223.6 C266.8,226.4 270.0,215.0 274.0,218.0 C278.0,221.0 284.0,239.9 288.0,241.8 C292.0,243.7 294.8,229.9 297.8,229.2 C300.8,228.5 302.2,239.0 306.2,237.6 C310.2,236.2 317.0,222.7 321.7,220.8 C326.4,218.9 330.6,223.4 334.3,226.4 C338.0,229.4 339.6,236.7 344.0,239.0 C348.4,241.3 355.5,241.1 360.9,240.4 C366.3,239.7 371.2,233.9 376.3,234.8 C381.4,235.7 386.6,243.0 391.7,246.0 C396.8,249.0 399.8,249.9 407.0,253.0 C414.2,256.1 426.8,259.9 435.0,264.3 C443.2,268.8 449.1,276.9 456.1,279.7 C463.1,282.5 471.6,280.0 477.1,281.0 C482.6,282.0 485.1,282.3 489.3,285.5 C493.5,288.7 496.2,297.6 502.4,300.4 C508.6,303.2 518.0,301.2 526.7,302.3 C535.4,303.4 543.8,304.5 554.7,307.0 C565.6,309.5 581.1,314.7 592.0,317.2 C602.9,319.7 612.3,322.2 620.1,321.9 C627.9,321.6 632.5,316.2 638.7,315.4 C644.9,314.6 652.1,316.0 657.4,317.2 C662.7,318.4 665.8,322.9 670.5,322.8 C675.2,322.7 679.8,316.6 685.4,316.3 C691.0,316.0 699.1,319.0 704.1,321.0 C709.1,323.0 712.2,325.3 715.3,328.4 C718.4,331.5 718.4,334.0 722.8,339.6 C727.1,345.2 736.7,355.8 741.4,362.0 C746.1,368.2 747.1,370.1 750.8,377.0 C754.5,383.9 759.8,394.7 763.8,403.1 C767.8,411.5 771.0,417.1 775.0,427.4 C779.0,437.7 783.7,453.9 788.1,464.8 C792.5,475.7 797.6,483.9 801.2,492.8 C804.9,501.7 806.6,508.1 810.0,518.0 C813.4,527.9 816.9,539.2 821.6,552.0 C826.3,564.8 833.4,581.4 838.4,594.7 C843.4,608.0 847.7,619.5 851.4,632.0 C855.1,644.5 857.4,656.9 860.8,669.4 C864.2,681.9 868.3,694.2 872.0,706.7 C875.7,719.2 879.8,730.2 883.2,744.1 C886.6,758.0 889.5,774.5 892.4,790.0 C895.3,805.5 898.0,822.9 900.6,836.9 C903.2,850.9 905.5,861.4 907.9,873.7 C910.3,886.0 912.5,898.3 915.3,910.6 C918.1,922.9 921.4,935.2 924.5,947.5 C927.6,959.8 929.1,964.9 933.7,984.3 C938.3,1003.7 946.1,1039.0 952.0,1064.0 C957.9,1089.0 965.5,1119.4 969.0,1134.0 C972.5,1148.6 970.7,1142.5 973.2,1151.6 C975.7,1160.7 979.9,1175.6 984.2,1188.5 C988.5,1201.4 993.5,1214.2 999.0,1229.0 C1004.5,1243.8 1011.2,1262.9 1017.4,1277.0 C1023.5,1291.1 1029.8,1302.8 1035.9,1313.8 C1042.1,1324.8 1047.5,1334.1 1054.3,1343.3 C1061.0,1352.5 1068.4,1361.7 1076.4,1369.1 C1084.4,1376.5 1093.3,1381.2 1102.2,1387.6 C1111.1,1394.0 1120.7,1402.0 1130.0,1407.5 C1139.3,1413.0 1145.5,1415.9 1158.0,1420.6 C1170.5,1425.3 1187.6,1430.8 1204.7,1435.5 C1221.8,1440.2 1242.0,1444.2 1260.7,1448.6 C1279.4,1453.0 1298.0,1457.0 1316.7,1461.7 C1335.4,1466.4 1354.1,1471.6 1372.8,1476.6 C1391.5,1481.6 1410.1,1486.9 1428.8,1491.6 C1447.5,1496.3 1467.9,1500.9 1484.8,1504.6 C1501.7,1508.3 1518.1,1511.4 1530.0,1514.0 C1541.9,1516.6 1542.3,1517.2 1556.0,1520.0 C1569.7,1522.8 1593.3,1527.5 1612.0,1531.0 C1630.7,1534.5 1649.3,1538.0 1668.0,1541.0 C1686.7,1544.0 1705.3,1546.8 1724.0,1549.0 C1742.7,1551.2 1759.0,1552.7 1780.0,1554.0 C1801.0,1555.3 1813.3,1555.8 1850.0,1557.0 C1886.7,1558.2 1928.5,1559.7 2000.0,1561.0 C2071.5,1562.3 2232.5,1564.3 2279.0,1565.0" stroke="#22f0ea"/>
<path d="M196.0,608.0 C196.2,608.7 196.0,613.3 197.0,612.0 C198.0,610.7 200.2,602.7 202.0,600.0 C203.8,597.3 205.6,592.5 207.7,596.0 C209.8,599.5 212.1,620.8 214.3,621.0 C216.5,621.2 218.3,597.2 220.8,597.0 C223.3,596.8 227.0,619.0 229.2,620.0 C231.4,621.0 232.3,606.3 234.0,603.0 C235.7,599.7 237.5,598.0 239.5,600.0 C241.5,602.0 243.7,611.8 246.0,615.0 C248.3,618.2 250.8,619.8 253.5,619.0 C256.2,618.2 257.6,612.1 262.0,610.0 C266.4,607.9 274.2,606.5 279.6,606.4 C285.0,606.3 289.0,607.5 294.6,609.2 C300.2,610.9 305.7,617.6 313.2,616.7 C320.7,615.8 330.0,604.1 339.4,603.6 C348.8,603.1 360.9,613.1 369.3,613.9 C377.7,614.7 382.3,607.7 389.8,608.3 C397.3,608.9 403.8,614.8 414.1,617.6 C424.4,620.4 440.5,622.9 451.4,625.1 C462.3,627.3 470.0,627.9 479.4,630.7 C488.8,633.5 500.3,640.3 507.5,641.9 C514.7,643.5 516.2,638.9 522.4,640.1 C528.6,641.4 536.4,646.9 544.8,649.4 C553.2,651.9 565.3,654.1 572.8,655.0 C580.3,655.9 581.5,654.0 590.0,654.5 C598.5,655.0 612.7,657.4 623.6,658.2 C634.5,659.0 642.6,658.5 655.4,659.1 C668.2,659.7 690.9,660.2 700.2,661.9 C709.5,663.6 707.0,665.7 711.4,669.4 C715.8,673.1 720.1,678.1 726.3,684.3 C732.5,690.5 742.5,699.9 748.7,706.7 C754.9,713.6 759.0,718.2 763.7,725.4 C768.4,732.6 772.0,742.2 776.7,749.7 C781.4,757.2 786.4,761.8 791.7,770.2 C797.0,778.6 803.2,791.7 808.5,800.1 C813.8,808.5 818.4,814.5 823.4,820.7 C828.4,826.9 832.3,829.9 838.4,837.5 C844.5,845.1 853.3,855.4 860.0,866.4 C866.7,877.4 872.2,890.3 878.4,903.2 C884.5,916.1 891.0,930.3 896.9,943.8 C902.8,957.3 908.3,971.4 913.5,984.3 C918.7,997.2 923.0,1008.9 928.2,1021.2 C933.4,1033.5 939.0,1045.8 944.8,1058.1 C950.6,1070.4 958.3,1084.6 963.2,1094.9 C968.1,1105.2 970.3,1111.7 974.3,1120.0 C978.3,1128.3 982.7,1136.7 987.0,1145.0 C991.3,1153.3 995.3,1160.8 1000.0,1170.0 C1004.7,1179.2 1010.0,1189.7 1015.0,1200.0 C1020.0,1210.3 1024.1,1220.3 1030.0,1232.0 C1035.9,1243.7 1042.6,1258.8 1050.6,1270.0 C1058.6,1281.2 1069.0,1291.2 1078.2,1299.1 C1087.4,1307.0 1097.3,1311.5 1105.9,1317.5 C1114.5,1323.5 1116.7,1327.2 1130.0,1335.0 C1143.3,1342.8 1167.3,1355.9 1186.0,1364.6 C1204.7,1373.3 1223.3,1379.2 1242.0,1387.0 C1260.7,1394.8 1279.4,1402.9 1298.1,1411.3 C1316.8,1419.7 1335.4,1429.0 1354.1,1437.4 C1372.8,1445.8 1391.4,1453.6 1410.1,1461.7 C1428.8,1469.8 1451.1,1479.8 1466.1,1486.0 C1481.1,1492.2 1489.3,1495.3 1500.0,1499.0 C1510.7,1502.7 1520.7,1505.4 1530.0,1508.4 C1539.3,1511.4 1542.3,1513.6 1556.0,1517.0 C1569.7,1520.4 1593.3,1525.5 1612.0,1529.0 C1630.7,1532.5 1649.3,1535.2 1668.0,1538.0 C1686.7,1540.8 1705.3,1544.0 1724.0,1546.0 C1742.7,1548.0 1754.0,1548.5 1780.0,1550.0 C1806.0,1551.5 1843.3,1553.5 1880.0,1555.0 C1916.7,1556.5 1963.3,1557.8 2000.0,1559.0 C2036.7,1560.2 2053.5,1561.2 2100.0,1562.0 C2146.5,1562.8 2249.2,1563.7 2279.0,1564.0" stroke="#22ea1c"/>
<path d="M196.0,703.0 C196.2,703.4 195.8,703.8 197.0,705.4 C198.2,707.0 200.5,709.2 203.1,712.9 C205.7,716.6 209.3,729.7 212.4,727.8 C215.5,725.9 218.3,702.3 221.7,701.7 C225.1,701.1 229.2,721.9 233.0,724.1 C236.8,726.3 241.4,716.3 244.2,714.8 C247.0,713.2 247.0,718.2 249.8,714.8 C252.6,711.4 257.0,698.6 261.0,694.2 C265.0,689.8 269.0,688.3 274.0,688.6 C279.0,688.9 285.5,695.0 290.8,696.1 C296.1,697.2 300.2,697.0 305.8,695.1 C311.4,693.2 315.8,687.4 324.5,684.9 C333.2,682.4 349.9,680.5 358.0,680.2 C366.1,679.9 365.2,683.5 373.0,683.0 C380.8,682.5 394.7,676.9 404.7,677.4 C414.7,677.9 421.9,683.3 432.8,685.8 C443.7,688.3 457.7,690.3 470.1,692.3 C482.6,694.3 495.1,696.4 507.5,698.0 C520.0,699.6 531.0,699.6 544.8,701.7 C558.5,703.8 576.5,709.8 590.0,710.8 C603.5,711.8 613.0,707.1 625.5,707.7 C638.0,708.3 652.0,712.3 664.7,714.2 C677.5,716.1 693.3,715.5 702.0,718.9 C710.7,722.3 711.4,728.7 717.0,734.8 C722.6,740.9 729.8,748.5 735.7,755.3 C741.6,762.1 747.5,768.9 752.5,775.8 C757.5,782.6 761.1,789.2 765.5,796.4 C769.9,803.6 773.7,810.2 778.6,818.8 C783.5,827.4 789.8,839.0 795.0,848.0 C800.2,857.0 805.5,866.2 810.0,873.0 C814.5,879.8 817.8,884.7 822.0,889.0 C826.2,893.3 829.9,894.3 835.0,899.0 C840.1,903.7 846.3,910.1 852.5,917.4 C858.7,924.7 866.0,934.2 872.0,942.9 C878.0,951.6 883.8,961.6 888.5,969.8 C893.2,978.0 895.8,983.4 900.0,992.0 C904.2,1000.6 908.5,1010.2 913.5,1021.2 C918.5,1032.2 923.9,1045.2 930.0,1058.0 C936.1,1070.8 943.7,1086.0 950.0,1098.0 C956.3,1110.0 961.7,1119.5 968.0,1130.0 C974.3,1140.5 981.5,1150.4 987.9,1160.8 C994.3,1171.2 1000.2,1182.0 1006.4,1192.2 C1012.5,1202.4 1018.7,1212.5 1024.8,1221.7 C1030.9,1230.9 1036.5,1239.2 1043.2,1247.5 C1050.0,1255.8 1057.3,1264.0 1065.3,1271.4 C1073.3,1278.8 1082.6,1285.6 1091.2,1291.7 C1099.8,1297.8 1110.5,1303.9 1117.0,1308.3 C1123.5,1312.7 1118.5,1311.4 1130.0,1318.0 C1141.5,1324.6 1167.3,1338.8 1186.0,1347.8 C1204.7,1356.8 1223.3,1363.6 1242.0,1372.0 C1260.7,1380.4 1279.4,1389.2 1298.1,1398.2 C1316.8,1407.2 1335.4,1416.9 1354.1,1426.2 C1372.8,1435.5 1391.4,1445.2 1410.1,1454.2 C1428.8,1463.2 1446.1,1472.4 1466.1,1480.4 C1486.1,1488.4 1515.0,1497.1 1530.0,1502.0 C1545.0,1506.9 1542.3,1506.3 1556.0,1510.0 C1569.7,1513.7 1593.3,1519.7 1612.0,1524.0 C1630.7,1528.3 1649.3,1532.3 1668.0,1536.0 C1686.7,1539.7 1705.3,1543.0 1724.0,1546.0 C1742.7,1549.0 1754.0,1550.7 1780.0,1554.0 C1806.0,1557.3 1843.3,1563.2 1880.0,1566.0 C1916.7,1568.8 1963.3,1569.7 2000.0,1571.0 C2036.7,1572.3 2053.5,1573.2 2100.0,1574.0 C2146.5,1574.8 2249.2,1575.7 2279.0,1576.0" stroke="#d818e0"/>
<path d="M196.0,524.0 C196.2,524.7 196.0,524.8 197.5,528.0 C199.0,531.2 203.2,537.7 205.0,543.0 C206.8,548.3 207.3,554.1 208.5,560.0 C209.7,565.9 210.5,578.1 212.4,578.4 C214.3,578.7 217.0,565.2 219.9,561.6 C222.8,558.0 226.6,558.2 230.0,557.0 C233.4,555.8 236.5,551.9 240.4,554.2 C244.3,556.5 248.8,570.1 253.5,571.0 C258.2,571.9 263.1,563.8 268.4,559.8 C273.7,555.8 279.6,547.3 285.2,546.7 C290.8,546.1 296.7,554.1 302.0,556.0 C307.3,557.9 311.7,559.8 317.0,557.9 C322.3,556.0 327.0,547.1 333.8,544.8 C340.6,542.5 350.5,543.0 358.0,543.9 C365.5,544.8 373.0,549.9 378.6,550.4 C384.2,550.9 384.2,546.9 391.7,546.7 C399.2,546.6 415.0,548.0 423.4,549.5 C431.8,551.0 434.3,553.4 442.1,556.0 C449.9,558.6 464.5,564.3 470.1,565.4 C475.7,566.5 471.3,561.0 475.7,562.6 C480.1,564.2 490.4,573.3 496.3,574.7 C502.2,576.1 505.3,569.8 511.2,571.0 C517.1,572.2 523.0,579.7 531.7,582.2 C540.4,584.7 553.8,584.1 563.5,585.9 C573.2,587.7 582.5,591.4 590.0,593.0 C597.5,594.6 601.2,594.4 608.7,595.6 C616.2,596.8 626.1,600.3 634.8,600.3 C643.5,600.3 652.3,595.1 661.0,595.6 C669.7,596.1 680.0,601.5 687.1,603.1 C694.2,604.7 698.9,602.0 703.9,605.0 C708.9,608.0 713.0,615.0 717.0,620.8 C721.0,626.5 723.5,633.3 728.2,639.5 C732.9,645.7 740.0,652.0 745.0,658.2 C750.0,664.4 754.1,670.0 758.1,676.9 C762.1,683.8 765.3,691.2 769.3,699.3 C773.3,707.4 777.3,717.0 782.3,725.4 C787.3,733.8 793.0,738.8 799.2,749.7 C805.4,760.6 813.2,780.2 819.7,790.8 C826.2,801.4 832.1,805.0 838.4,813.2 C844.7,821.4 850.8,829.9 857.5,840.0 C864.2,850.1 871.8,861.9 878.4,873.7 C885.0,885.5 891.0,898.3 896.9,910.6 C902.8,922.9 907.7,935.2 913.5,947.5 C919.3,959.8 926.1,972.0 931.9,984.3 C937.7,996.6 943.0,1008.9 948.5,1021.2 C954.0,1033.5 959.5,1045.5 965.1,1058.1 C970.7,1070.7 977.0,1085.4 982.0,1097.0 C987.0,1108.6 990.6,1117.3 995.3,1127.6 C1000.0,1137.9 1005.1,1148.8 1010.0,1159.0 C1014.9,1169.2 1019.9,1179.3 1024.8,1188.5 C1029.7,1197.7 1034.0,1205.7 1039.5,1214.3 C1045.0,1222.9 1051.2,1232.1 1058.0,1240.1 C1064.8,1248.1 1072.1,1255.5 1080.1,1262.2 C1088.1,1269.0 1097.6,1274.1 1105.9,1280.6 C1114.2,1287.1 1116.7,1293.0 1130.0,1301.1 C1143.3,1309.2 1167.3,1319.8 1186.0,1329.1 C1204.7,1338.4 1220.2,1346.2 1242.0,1357.1 C1263.8,1368.0 1294.9,1383.3 1316.7,1394.5 C1338.5,1405.7 1354.1,1414.3 1372.8,1424.3 C1391.5,1434.2 1410.1,1445.2 1428.8,1454.2 C1447.5,1463.2 1472.9,1473.4 1484.8,1478.5 C1496.7,1483.6 1488.1,1480.6 1500.0,1484.8 C1511.9,1489.0 1537.3,1497.9 1556.0,1503.5 C1574.7,1509.1 1593.3,1513.7 1612.0,1518.4 C1630.7,1523.1 1649.3,1527.6 1668.0,1531.5 C1686.7,1535.4 1705.4,1538.7 1724.1,1541.8 C1742.8,1544.9 1761.4,1548.0 1780.1,1550.2 C1798.8,1552.4 1819.4,1553.3 1836.1,1554.8 C1852.8,1556.3 1852.7,1557.3 1880.0,1559.0 C1907.3,1560.7 1963.3,1563.5 2000.0,1565.0 C2036.7,1566.5 2053.5,1567.2 2100.0,1568.0 C2146.5,1568.8 2249.2,1569.7 2279.0,1570.0" stroke="#7c7e1c"/></g>
<rect x="194.6" y="44.6" width="2087" height="1551" fill="none" stroke="#000" stroke-width="6.2"/>
<g stroke="#000" stroke-width="6.2" stroke-linecap="round"><line x1="194.8" y1="1596" x2="194.8" y2="1641"/><line x1="325.2" y1="1596" x2="325.2" y2="1620"/><line x1="455.6" y1="1596" x2="455.6" y2="1641"/><line x1="586.1" y1="1596" x2="586.1" y2="1620"/><line x1="716.5" y1="1596" x2="716.5" y2="1641"/><line x1="846.9" y1="1596" x2="846.9" y2="1620"/><line x1="977.3" y1="1596" x2="977.3" y2="1641"/><line x1="1107.7" y1="1596" x2="1107.7" y2="1620"/><line x1="1238.1" y1="1596" x2="1238.1" y2="1641"/><line x1="1368.6" y1="1596" x2="1368.6" y2="1620"/><line x1="1499.0" y1="1596" x2="1499.0" y2="1641"/><line x1="1629.4" y1="1596" x2="1629.4" y2="1620"/><line x1="1759.8" y1="1596" x2="1759.8" y2="1641"/><line x1="1890.2" y1="1596" x2="1890.2" y2="1620"/><line x1="2020.7" y1="1596" x2="2020.7" y2="1641"/><line x1="2151.1" y1="1596" x2="2151.1" y2="1620"/><line x1="2281.5" y1="1596" x2="2281.5" y2="1641"/></g>
<g font-family="Liberation Serif, serif" font-weight="bold" font-size="94" text-anchor="middle" fill="#000"><text x="193.8" y="1743">200</text><text x="454.6" y="1743">250</text><text x="715.5" y="1743">300</text><text x="976.3" y="1743">350</text><text x="1237.1" y="1743">400</text><text x="1498.0" y="1743">450</text><text x="1758.8" y="1743">500</text><text x="2019.7" y="1743">550</text><text x="2280.5" y="1743">600</text></g>
<text x="777" y="1876" font-family="Liberation Serif, serif" font-weight="bold" font-size="107" fill="#2b2626" letter-spacing="3.15">Wavelength (nm)</text>
<text transform="translate(118.5,1304) rotate(-90)" font-family="Liberation Serif, serif" font-weight="bold" font-size="107" fill="#2b2626" letter-spacing="3.15">Absorbance (a.u.)</text>
<g font-family="Liberation Serif, serif" font-weight="bold" font-size="82" fill="#000"><line x1="1405" y1="584.6" x2="1567" y2="584.6" stroke="#000000" stroke-width="11" stroke-linecap="round"/>
<line x1="1405" y1="710.8" x2="1567" y2="710.8" stroke="#dc1414" stroke-width="11" stroke-linecap="round"/>
<text transform="translate(1591,735.6) scale(0.955,1)">TNT3</text>
<line x1="1405" y1="809.2" x2="1567" y2="809.2" stroke="#0c0ad6" stroke-width="11" stroke-linecap="round"/>
<text transform="translate(1591,834.0) scale(0.955,1)">STNT1</text>
<line x1="1405" y1="908.6" x2="1567" y2="908.6" stroke="#22f0ea" stroke-width="11" stroke-linecap="round"/>
<text transform="translate(1591,933.4) scale(0.955,1)">STNT2</text>
<line x1="1405" y1="1006.4" x2="1567" y2="1006.4" stroke="#22ea1c" stroke-width="11" stroke-linecap="round"/>
<text transform="translate(1591,1031.2) scale(0.955,1)">STNT3</text>
<line x1="1405" y1="1105.7" x2="1567" y2="1105.7" stroke="#d818e0" stroke-width="11" stroke-linecap="round"/>
<text transform="translate(1591,1130.5) scale(0.955,1)">STNT4</text>
<line x1="1405" y1="1204.1" x2="1567" y2="1204.1" stroke="#7c7e1c" stroke-width="11" stroke-linecap="round"/>
<text transform="translate(1591,1228.9) scale(0.955,1)">STNT5</text>
<text transform="translate(1590,610.2) scale(0.955,1)">K</text>
<text transform="translate(1651,640.2) scale(1.15,1)" font-size="41">3</text>
<text transform="translate(1676,610.2) scale(0.955,1)">Ti</text>
<text transform="translate(1749.5,640.2) scale(1.15,1)" font-size="41">5</text>
<text transform="translate(1774,610.2) scale(0.955,1)">NbO</text>
<text transform="translate(1940,640.2) scale(1.1,1)" font-size="41" letter-spacing="1.5">14</text></g>
</svg>
</body></html>
